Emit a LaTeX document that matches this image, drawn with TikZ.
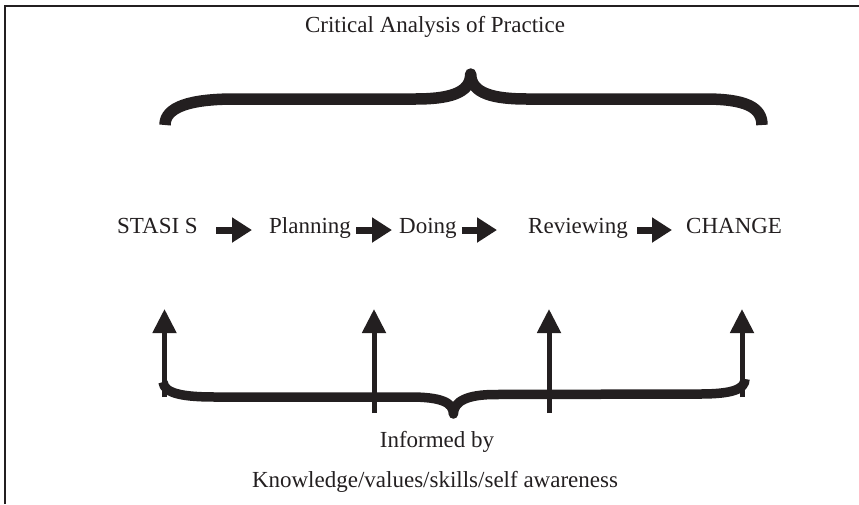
\documentclass[tikz,border=0pt]{standalone}
\usepackage{fontspec}
\setmainfont{Liberation Serif}
\usetikzlibrary{arrows.meta}
\definecolor{ink}{RGB}{35,31,32}
\begin{document}
\begin{tikzpicture}[x=1pt,y=-1pt,
  word/.style={inner sep=0pt, font=\fontsize{23}{27}\selectfont, text=ink,
    text height=16pt, text depth=5pt},
  flow/.style={draw=ink, line width=7pt, -{Triangle[length=20pt,width=24pt]}},
  riser/.style={draw=ink, line width=5pt, -{Triangle[length=24pt,width=23pt]}},
  brace/.style={draw=ink, line join=round}]
\useasboundingbox (0,0) rectangle (859,504);

% frame (top and left edges only)
\draw[ink, line width=1.2pt] (5,504) -- (5,6) -- (859,6);

% headings
\node[word, anchor=base] (title) at (435,32) {Critical Analysis of Practice};
\node[word, anchor=base] (inf) at (437,447) {Informed by};
\node[word, anchor=base] (kv) at (435,487) {Knowledge/values/skills/self awareness};

% process row
\node[word, anchor=base west] (s) at (117,233) {STASI S};
\node[word, anchor=base west] (p) at (269,233) {Planning};
\node[word, anchor=base west] (d) at (399,233) {Doing};
\node[word, anchor=base west] (r) at (528,233) {Reviewing};
\node[word, anchor=base west] (c) at (686,233) {CHANGE};

\draw[flow, shorten <=18pt, shorten >=17pt] ([yshift=-2.5pt]s.east) -- ([yshift=-2.5pt]p.west);
\draw[flow, shorten <=5pt, shorten >=7pt] ([yshift=-2.5pt]p.east) -- ([yshift=-2.5pt]d.west);
\draw[flow, shorten <=5pt, shorten >=31pt] ([yshift=-2.5pt]d.east) -- ([yshift=-2.5pt]r.west);
\draw[flow, shorten <=9pt, shorten >=14pt] ([yshift=-2.5pt]r.east) -- ([yshift=-2.5pt]c.west);

% upper brace
\draw[brace, line width=11.5pt]
  (165,125) .. controls (165,107) and (190,99) .. (235,99)
  -- (415,99) .. controls (447,99) and (470.7,94) .. (470.7,74)
  .. controls (470.7,94) and (495,99) .. (527,99)
  -- (705,99) .. controls (745,99) and (762,107) .. (762,125);

% lower brace
\draw[brace, line width=9.5pt]
  (163,382) .. controls (164,394) and (185,397) .. (215,397)
  -- (410,397) .. controls (440,397) and (453.4,402) .. (453.4,414)
  .. controls (453.4,401) and (468,394.5) .. (495,394.5)
  -- (700,394) .. controls (733,394) and (745,389) .. (745,379);

% rising arrows
\coordinate (b1) at (164.5,397); \coordinate (t1) at (164.5,309);
\coordinate (b2) at (374,413);   \coordinate (t2) at (374,309);
\coordinate (b3) at (549,413);   \coordinate (t3) at (549,309);
\coordinate (b4) at (742,397);   \coordinate (t4) at (742,309);
\draw[riser] (b1) -- (t1);
\draw[riser] (b2) -- (t2);
\draw[riser] (b3) -- (t3);
\draw[riser] (b4) -- (t4);
\end{tikzpicture}
\end{document}
